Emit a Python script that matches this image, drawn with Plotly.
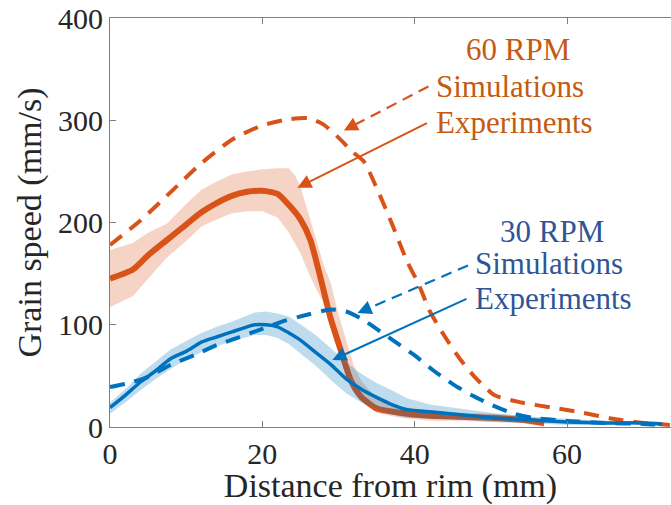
import plotly.graph_objects as go

# ---------------- data ----------------
# 60 RPM experiments (mean and band)
x_exp60 = [0, 3, 5, 7.5, 10, 12, 14, 16, 18, 20, 22, 23.5, 25, 26.3, 27.6, 28.9, 30.3, 31.6, 32.9, 35, 38, 42, 46, 50, 54, 57]
y_exp60 = [145, 154, 168, 183, 198, 210, 219, 226, 230, 231, 228, 217, 203, 183, 147, 108, 75, 46, 30, 18, 14, 11, 10, 9, 7, 4]

x_band60 = [0, 3, 5, 7.5, 10, 12, 14, 16, 18, 20, 22, 23.5, 24.3, 25, 26, 27, 28, 29, 30, 31, 32, 33, 35, 38, 42, 46, 50, 54, 57]
up_band60 = [173, 180, 190, 199, 218, 232, 240, 247, 250, 252, 253, 253, 246, 235, 210, 185, 160, 140, 110, 85, 60, 45, 28, 20, 16, 14, 13, 11, 8]
lo_band60 = [117, 128, 145, 166, 182, 196, 203, 209, 211, 211, 205, 190, 180, 170, 152, 136, 122, 100, 80, 60, 42, 28, 14, 9, 6, 6, 5, 4, 0]

# 60 RPM simulations
x_sim60 = [0, 4, 8, 12, 16, 20, 23.5, 26, 28, 30, 32, 33.3, 35, 37, 39, 40.5, 42, 44, 46, 48, 50.5, 54, 58, 62, 66, 70, 73.5]
y_sim60 = [178, 202, 230, 258, 281, 295, 301, 302, 296, 283, 268, 260, 234, 199, 162, 140, 113, 88, 66, 48, 31, 24, 19, 14, 8, 4, 2]

# 30 RPM experiments (mean and band)
x_exp30 = [0, 2, 4, 6, 8, 10, 12, 14, 16, 18, 19, 20.5, 22, 23.5, 25, 27, 29, 31, 33, 35, 37, 39, 42, 46, 50, 55, 60, 65, 70, 72.5]
y_exp30 = [19, 31, 44, 55, 67, 74, 83, 88, 93, 98, 100, 100, 98, 92, 85, 73, 61, 47, 37, 29, 22, 17, 15, 12, 9, 7, 5, 4, 4, 3]
up_band30 = [24, 37, 52, 64, 76, 84, 92, 98, 103, 109, 112, 113, 111, 108, 100, 90, 77, 63, 52, 43, 36, 28, 22, 18, 14, 10, 8, 6, 5, 4]
lo_band30 = [13, 24, 36, 47, 57, 66, 73, 79, 84, 88, 90, 90, 87, 81, 72, 60, 46, 33, 24, 18, 12, 9, 8, 7, 5, 4, 2, 2, 2, 1]

# 30 RPM simulations
x_sim30 = [0, 2.5, 5, 8, 11, 14, 17, 20, 23, 26, 29, 31, 33, 35, 37.5, 40, 42.5, 45, 47.5, 50, 53, 55.5, 60, 65, 70, 72.5]
y_sim30 = [39, 43, 49, 61, 70, 80, 88, 96, 104, 110, 115, 113, 106, 96, 83, 70, 55, 42, 31, 22, 13, 9, 6, 4, 3, 2]

x_ticks = [0, 20, 40, 60]
y_ticks = [0, 100, 200, 300, 400]

# annotation anchors: (tail_x, tail_y, head_x, head_y)
arr_sim60 = (41.8, 333, 30.7, 290)
arr_exp60 = (41.8, 298, 24.6, 234)
arr_sim30 = (47.0, 158, 32.5, 111.5)
arr_exp30 = (47.0, 126, 29.2, 65.5)

ORANGE = "#D95319"
BLUE = "#0072BD"
TXT_OR = "#C55A11"
TXT_BL = "#2F5597"

fig = go.Figure()

def band(x, lo, up, color):
    fig.add_trace(go.Scatter(x=x + x[::-1], y=up + lo[::-1], fill="toself",
                             fillcolor=color, line=dict(width=0), mode="lines",
                             hoverinfo="skip", showlegend=False))

band(x_band60, lo_band60, up_band60, "rgba(217,83,25,0.25)")
fig.add_trace(go.Scatter(x=x_exp60, y=y_exp60, mode="lines", line=dict(color=ORANGE, width=6, shape="spline", smoothing=0.6), showlegend=False))
fig.add_trace(go.Scatter(x=x_sim60, y=y_sim60, mode="lines", line=dict(color=ORANGE, width=4, dash="15px,10px", shape="spline", smoothing=0.6), showlegend=False))
band(x_exp30, lo_band30, up_band30, "rgba(0,114,189,0.25)")
fig.add_trace(go.Scatter(x=x_exp30, y=y_exp30, mode="lines", line=dict(color=BLUE, width=3.5, shape="spline", smoothing=0.6), showlegend=False))
fig.add_trace(go.Scatter(x=x_sim30, y=y_sim30, mode="lines", line=dict(color=BLUE, width=4, dash="15px,10px", shape="spline", smoothing=0.6), showlegend=False))

ann_font = "Liberation Serif"

def arrow(a, color, dashed):
    tx, ty, hx, hy = a
    if dashed:
        fig.add_shape(type="line", x0=tx, y0=ty, x1=hx + 0.1 * (tx - hx), y1=hy + 0.1 * (ty - hy),
                      line=dict(color=color, width=2.2, dash="11px,7px"), xref="x", yref="y")
        fig.add_annotation(x=hx, y=hy, ax=hx + 0.12 * (tx - hx), ay=hy + 0.12 * (ty - hy),
                           axref="x", ayref="y", text="", showarrow=True,
                           arrowhead=2, arrowsize=1.4, arrowwidth=2, arrowcolor=color)
    else:
        fig.add_annotation(x=hx, y=hy, ax=tx, ay=ty, axref="x", ayref="y", text="",
                           showarrow=True, arrowhead=2, arrowsize=1.4, arrowwidth=2, arrowcolor=color)

arrow(arr_sim60, ORANGE, True)
arrow(arr_exp60, ORANGE, False)
arrow(arr_sim30, BLUE, True)
arrow(arr_exp30, BLUE, False)

def label(x, y, text, color, xanchor):
    fig.add_annotation(x=x, y=y, text=text, showarrow=False, xanchor=xanchor, yanchor="middle",
                       font=dict(family=ann_font, size=31, color=color))

label(53.6, 369, "60 RPM", TXT_OR, "center")
label(42.6, 333, "Simulations", TXT_OR, "left")
label(42.6, 298, "Experiments", TXT_OR, "left")
label(58.0, 191, "30 RPM", TXT_BL, "center")
label(47.6, 160, "Simulations", TXT_BL, "left")
label(47.6, 126, "Experiments", TXT_BL, "left")

axis_font = dict(family="Liberation Serif", size=30, color="#262626")
title_font = dict(family="Liberation Serif", size=34, color="#262626")

fig.update_xaxes(range=[0, 73.65], tickvals=x_ticks, ticktext=[str(v) for v in x_ticks],
                 showline=True, linecolor="#7f7f7f", linewidth=1, mirror="ticks",
                 ticks="inside", ticklen=6, tickcolor="#7f7f7f", showgrid=False, zeroline=False,
                 tickfont=axis_font, title=dict(text="Distance from rim (mm)", font=title_font, standoff=2))
fig.update_yaxes(range=[0, 400], tickvals=y_ticks, ticktext=[str(v) for v in y_ticks],
                 showline=True, linecolor="#7f7f7f", linewidth=1, mirror=False,
                 ticks="inside", ticklen=6, tickcolor="#7f7f7f", showgrid=False, zeroline=False,
                 tickfont=axis_font, title=dict(text="Grain speed (mm/s)", font=title_font, standoff=6))

fig.update_layout(width=671, height=505, autosize=False,
                  margin=dict(l=110, r=0, t=18, b=78),
                  plot_bgcolor="white", paper_bgcolor="white", showlegend=False)

fig.write_html("out.html")
